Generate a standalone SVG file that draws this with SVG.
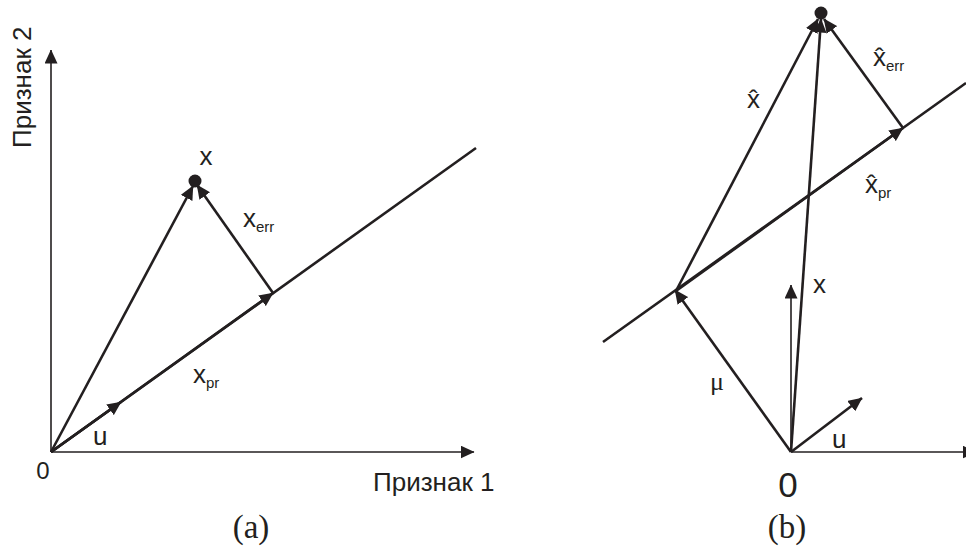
<svg xmlns="http://www.w3.org/2000/svg" width="966" height="549" viewBox="0 0 966 549">
<defs>
<style>
.ax{stroke:#231f20;stroke-width:1.6;fill:none}
.vec{stroke:#231f20;stroke-width:2.6;fill:none}
.thin{stroke:#231f20;stroke-width:1.6;fill:none}
.lb{font-family:"Liberation Sans",Arial,sans-serif;font-size:26px;fill:#231f20}
.sub{font-size:15px}
.cap{font-family:"Liberation Serif","Times New Roman",serif;font-size:33px;fill:#231f20}
</style>
<marker id="ah" markerUnits="userSpaceOnUse" markerWidth="14" markerHeight="13" refX="13.5" refY="6.5" orient="auto" viewBox="0 0 14 13">
<path d="M0,0 L14,6.5 L0,13 Z" fill="#231f20"/>
</marker>
</defs>
<rect width="966" height="549" fill="#ffffff"/>

<g id="connectors">
<!-- panel a -->
<line class="ax" x1="51" y1="452" x2="51" y2="50" marker-end="url(#ah)"/>
<line class="ax" x1="51" y1="452" x2="474" y2="452" marker-end="url(#ah)"/>
<line class="vec" x1="51" y1="452" x2="476" y2="148"/>
<line class="vec" x1="51" y1="452" x2="121" y2="402" marker-end="url(#ah)"/>
<line class="vec" x1="51" y1="452" x2="273" y2="293" marker-end="url(#ah)"/>
<line class="vec" x1="51" y1="452" x2="193" y2="186" marker-end="url(#ah)"/>
<line class="vec" x1="273" y1="293" x2="197" y2="185" marker-end="url(#ah)"/>
<!-- panel b -->
<line class="ax" x1="791" y1="452" x2="976" y2="452" marker-end="url(#ah)"/>
<line class="vec" x1="603" y1="342" x2="966" y2="83"/>
<line class="thin" x1="791" y1="452" x2="791" y2="285" marker-end="url(#ah)"/>
<line class="vec" x1="791" y1="452" x2="862" y2="398" marker-end="url(#ah)"/>
<line class="vec" x1="791" y1="452" x2="675" y2="290" marker-end="url(#ah)"/>
<line class="vec" x1="676" y1="291" x2="903" y2="128" marker-end="url(#ah)"/>
<line class="vec" x1="676" y1="291" x2="818" y2="19" marker-end="url(#ah)"/>
<line class="vec" x1="791" y1="452" x2="821" y2="19" marker-end="url(#ah)"/>
<line class="vec" x1="903" y1="128" x2="824" y2="19" marker-end="url(#ah)"/>
</g>

<g id="point-a">
<circle cx="195" cy="181" r="6.5" fill="#231f20"/>
</g>
<g id="point-b">
<circle cx="821" cy="13" r="6.5" fill="#231f20"/>
</g>

<g id="labels-a">
<text class="lb" x="206" y="165" text-anchor="middle">x</text>
<text class="lb" x="243" y="227">x<tspan class="sub" dy="5">err</tspan></text>
<text class="lb" x="193" y="383">x<tspan class="sub" dy="5">pr</tspan></text>
<text class="lb" x="93" y="445">u</text>
<text class="lb" x="43" y="479" text-anchor="middle" style="font-size:24px">0</text>
<text class="lb" x="373" y="491">Признак 1</text>
<text class="lb" transform="translate(31,148) rotate(-90)">Признак 2</text>
<text class="cap" x="251" y="538" text-anchor="middle">(a)</text>
</g>

<g id="labels-b">
<text class="lb" x="747" y="108">x&#x302;</text>
<text class="lb" x="873" y="66">x&#x302;<tspan class="sub" dy="5">err</tspan></text>
<text class="lb" x="865" y="193">x&#x302;<tspan class="sub" dy="5">pr</tspan></text>
<text class="lb" x="813" y="293">x</text>
<text class="lb" x="710" y="390" style="font-family:'Liberation Serif',serif">μ</text>
<text class="lb" x="832" y="448">u</text>
<text class="lb" x="788" y="497" text-anchor="middle" style="font-size:35px">0</text>
<text class="cap" x="787" y="538" text-anchor="middle">(b)</text>
</g>
</svg>
